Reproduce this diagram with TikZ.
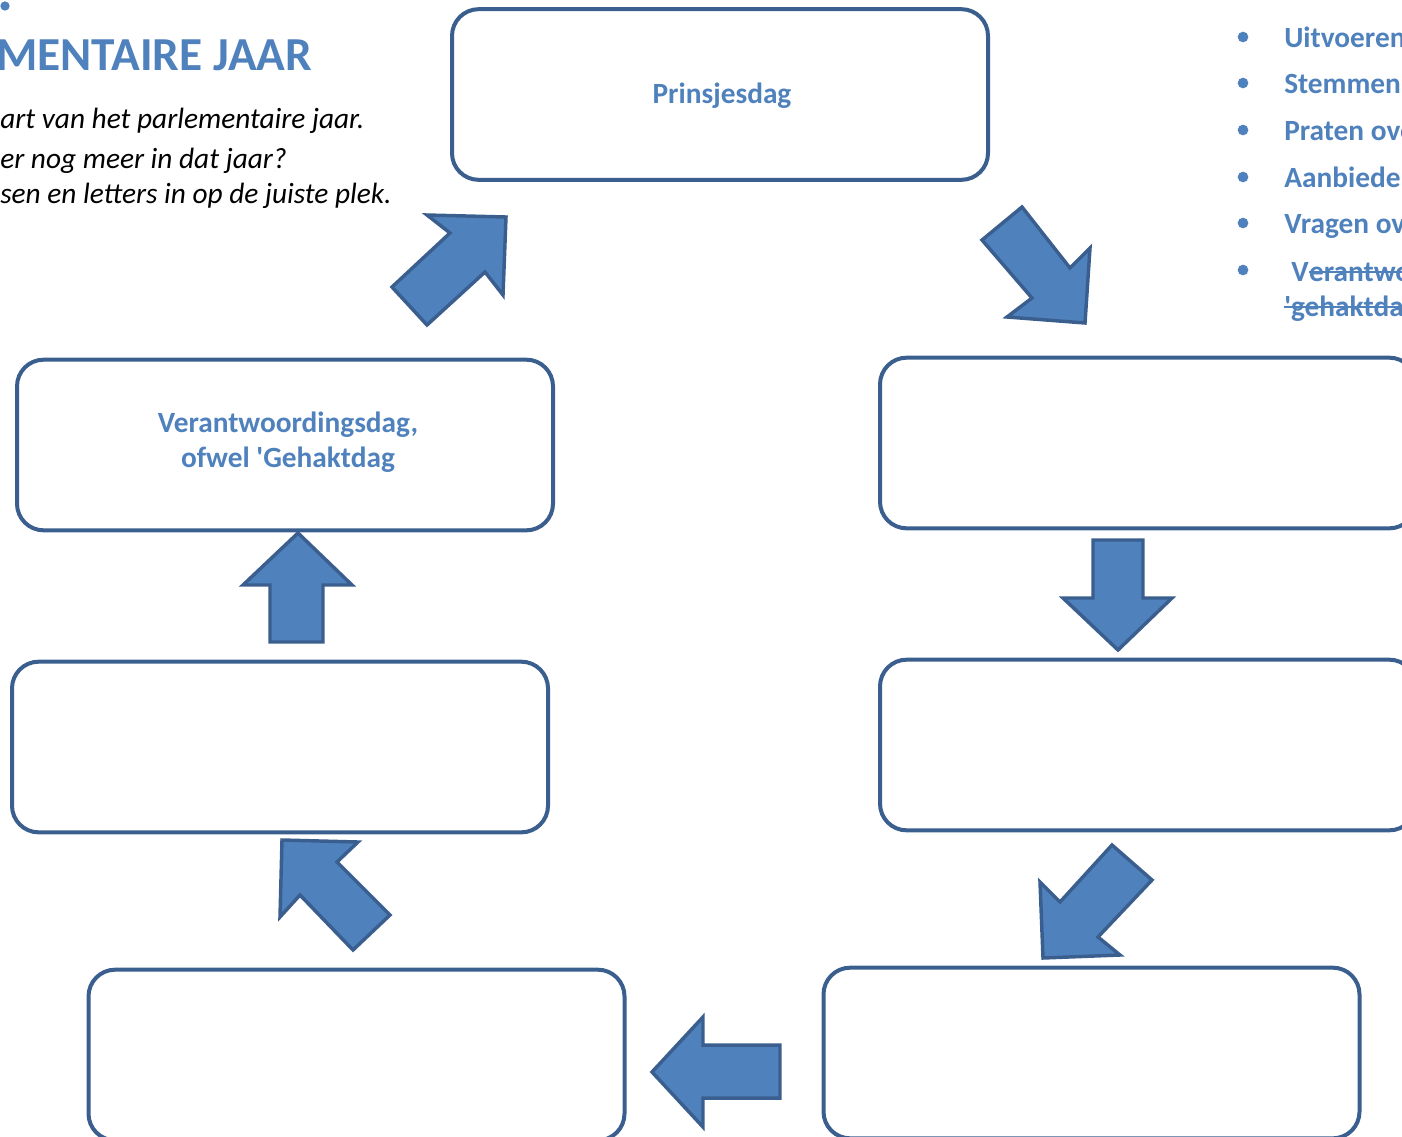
\documentclass[tikz,border=0pt]{standalone}
\usepackage{fontspec}
\setmainfont{Carlito}
\definecolor{txtblue}{HTML}{4F81BD}
\definecolor{edgeblue}{HTML}{3A5F8E}
\definecolor{fillblue}{HTML}{4F81BD}
\newcommand{\sq}{\textquotesingle}
\tikzset{
  box/.style={draw=edgeblue, line width=3pt, rounded corners=20pt, fill=white,
    minimum width=402pt, minimum height=128pt, align=center, inner sep=0pt,
    text=txtblue, font=\fontsize{22}{26}\selectfont\bfseries},
  boxtxt/.style={align=center, inner sep=0pt, text=txtblue, font=\fontsize{22}{26}\selectfont\bfseries},
  bigarrow/.style={draw=edgeblue, fill=fillblue, line width=2.6pt, line join=miter},
  listtxt/.style={anchor=base west, inner sep=0pt, text=txtblue, font=\fontsize{22}{26}\selectfont\bfseries},
  itxt/.style={anchor=base west, inner sep=0pt, font=\fontsize{22}{26}\selectfont\itshape},
  bul/.style={circle, fill=txtblue, inner sep=0pt, minimum size=8pt},
  strike/.style={draw=txtblue, line width=1.6pt}
}
\begin{document}
\begin{tikzpicture}[x=0.75pt,y=-0.75pt]
\useasboundingbox (0,0) rectangle (1402,1136);
\clip (0,0) rectangle (1402,1136);

% header text
\node[bul, minimum size=7pt] (topdot) at (5,6) {};
\node[anchor=base west, inner sep=0pt, text=txtblue, font=\fontsize{35.5}{40}\selectfont\bfseries] (title) at (-4,70) {MENTAIRE JAAR};
\node[itxt] (i1) at (0,128) {art van het parlementaire jaar.};
\node[itxt] (i2) at (0,168) {er nog meer in dat jaar?};
\node[itxt] (i3) at (0,203) {sen en letters in op de juiste plek.};

% bullet list (right, clipped)
\foreach \y/\t [count=\k] in {47/Uitvoeren, 93/Stemmen, 140/Praten over, 187/Aanbieden, 233/Vragen over}{
  \node[bul] (b\k) at (1243,\y-10) {};
  \node[listtxt] (l\k) at (1284,\y) {\t};
}
\node[bul] (b6) at (1243,270) {};
\node[listtxt] (l6) at (1291,281) {V};
\node[listtxt, anchor=base west] (l6b) at (l6.base east) {erantwoordingsdag, ofwel};
\node[listtxt] (l7) at (1284,316) {\sq gehaktdag\sq};
\draw[strike] ([yshift=7pt]l6b.base west) -- ([yshift=7pt]l6b.base east);
\draw[strike] ([yshift=7pt]l7.base west) -- ([yshift=7pt]l7.base east);

% boxes
\node[box] (prins) at (720,94.5) {};
\node[boxtxt] (prinst) at (722,96) {Prinsjesdag};
\node[box] (r1) at (1148,443) {};
\node[box] (r2) at (1148,745) {};
\node[box] (br) at (1091.5,1053) {};
\node[box] (bl) at (356.5,1055) {};
\node[box] (lm) at (280,747) {};
\node[box] (lt) at (285,445) {};
\node[boxtxt] (ltt) at (288,442) {Verantwoordingsdag,\\ofwel \sq Gehaktdag};

% arrows
\draw[bigarrow] (982,240) -- (1022,207) -- (1070,268) -- (1090,248) -- (1085,323) -- (1007,317) -- (1032,298) -- cycle;
\draw[bigarrow] (1093,540) -- (1143,540) -- (1143,598) -- (1172,598) -- (1118,650) -- (1063,598) -- (1093,598) -- cycle;
\draw[bigarrow] (1112,845) -- (1152,880) -- (1098,937) -- (1120,955) -- (1043,958) -- (1040,882) -- (1060,902) -- cycle;
\draw[bigarrow] (780,1045) -- (780,1098) -- (703,1098) -- (703,1127) -- (652,1072) -- (703,1017) -- (703,1045) -- cycle;
\draw[bigarrow] (353,950) -- (300,895) -- (280,917) -- (282,840) -- (358,842) -- (337,862) -- (390,915) -- cycle;
\draw[bigarrow] (270,642) -- (270,585) -- (243,585) -- (298,533) -- (352,585) -- (323,585) -- (323,642) -- cycle;
\draw[bigarrow] (427,325) -- (392,287) -- (450,233) -- (427,215) -- (506,217) -- (503,295) -- (485,272) -- cycle;
\end{tikzpicture}
\end{document}
